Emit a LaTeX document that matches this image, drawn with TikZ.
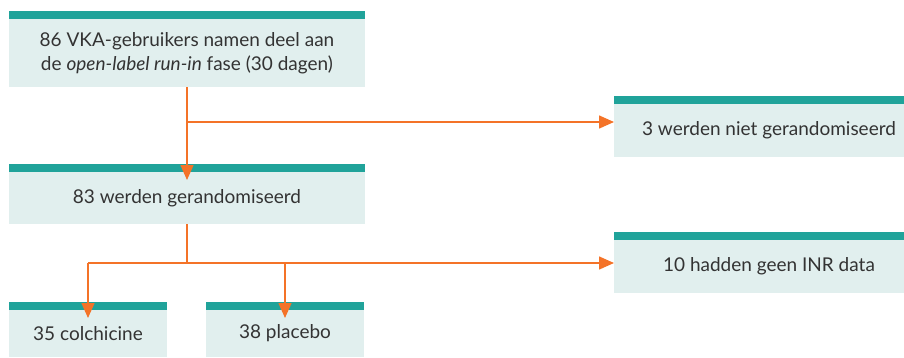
\documentclass[tikz,border=0pt]{standalone}
\usepackage{fontspec}
\setmainfont{Lato}
\usetikzlibrary{arrows.meta}
\definecolor{barteal}{HTML}{20A39A}
\definecolor{boxfill}{HTML}{E1EFEE}
\definecolor{flowor}{HTML}{F47328}
\definecolor{textgray}{HTML}{333333}
\begin{document}
\begin{tikzpicture}[x=1pt, y=-1pt, >={Triangle[width=13pt,length=15pt]},
    box/.style={fill=boxfill, text=textgray, inner sep=0pt, outer sep=0pt,
        minimum width=#1, font=\fontsize{19}{24}\selectfont,
        label={[fill=barteal, minimum width=#1, minimum height=8pt,
            inner sep=0pt, outer sep=0pt]above:{}}},
    flow/.style={draw=flowor, line width=1.5pt}]
\useasboundingbox (0,0) rectangle (904,357);

\node[box=356pt, minimum height=68pt, align=center] (start) at (187,53)
    {86 VKA-gebruikers namen deel aan\\de \textit{open-label run-in} fase (30 dagen)};
\node[box=290pt, minimum height=53pt] (excl1) at (759,130.5) {\hspace*{20pt}3 werden niet gerandomiseerd};
\node[box=356pt, minimum height=52pt] (rand) at (187,198) {83 werden gerandomiseerd};
\node[box=290pt, minimum height=53pt] (excl2) at (759,266.5) {\hspace*{20pt}10 hadden geen INR data};
\node[box=158pt, minimum height=47pt] (colch) at (88,333.5) {35 colchicine};
\node[box=158pt, minimum height=47pt] (placebo) at (285,333.5) {38 placebo};

\coordinate (split1) at (187,122);
\coordinate (split2) at (187,263);

% first split
\draw[flow,->,shorten >=-8pt] (start.south) -- (rand.north);
\draw[flow,->] (split1) -- (split1 -| excl1.west);
% second split
\draw[flow] (rand.south) -- (split2);
\draw[flow,->] (colch.north |- split2) -- (split2 -| excl2.west);
\draw[flow,->,shorten >=-8pt] (colch.north |- split2) -- (colch.north);
\draw[flow,->,shorten >=-8pt] (placebo.north |- split2) -- (placebo.north);

\end{tikzpicture}
\end{document}
